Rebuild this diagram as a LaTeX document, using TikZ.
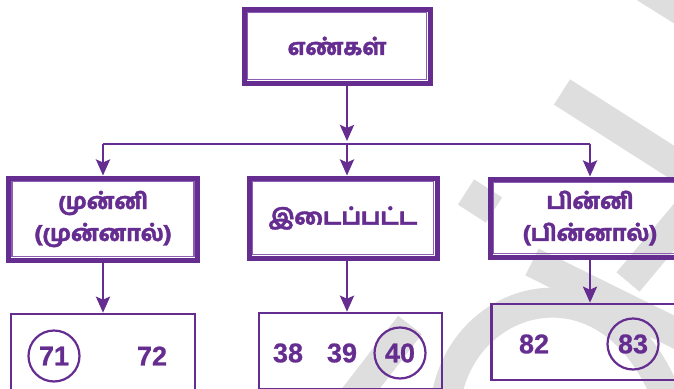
\documentclass[tikz,border=0pt]{standalone}
\usepackage{fontspec}
\setmainfont{Liberation Sans}
\newfontfamily\numfont{Liberation Sans}[BoldFeatures={FakeBold=0.8}]
\newfontfamily\tamilfont{Hind Madurai}[Script=Tamil, BoldFont={Hind Madurai Bold}, BoldFeatures={FakeBold=1.6}]
\usetikzlibrary{arrows.meta,positioning}
\definecolor{numpurple}{RGB}{102,45,145}
\definecolor{linepurple}{RGB}{140,95,180}
\definecolor{wmgray}{RGB}{222,222,222}

\begin{document}
\begin{tikzpicture}[x=1pt,y=-1pt,
  headbox/.style n args={2}{draw=numpurple, line width=5pt, minimum width=#1, minimum height=#2,
    inner sep=0pt, align=center, text=numpurple, font=\tamilfont\bfseries\fontsize{22.5}{32}\selectfont},
  setbox/.style n args={2}{draw=numpurple, line width=2.6pt, minimum width=#1, minimum height=#2, inner sep=0pt},
  num/.style={text=numpurple, font=\numfont\bfseries\fontsize{27}{27}\selectfont, inner sep=0pt},
  ring/.style={num, draw=numpurple, line width=2.2pt, circle, minimum size=51pt},
  arr/.style={draw=numpurple, line width=2.8pt, -{Stealth[length=16pt,width=14pt,inset=3pt]}},
  wm/.style={draw=wmgray, line width=30pt}]
\useasboundingbox (0,0) rectangle (674,388);
\clip (0,0) rectangle (674,388);
% watermark
\draw[wm] (625,-25) -- (700,22);
\draw[wm] (562,92) -- (700,180);
\draw[wm] (466,192) -- (494,210);
\draw[wm] (532,262) -- (700,345);
\draw[wm] (700,196) -- (628,282);
\draw[wm] (446,400) .. controls (462,292) and (610,250) .. (668,400);
\draw[wm] (352,400) -- (410,325);
% top box
\node[headbox={186}{74}] (nums) at (337,46) {எண்கள்};
% middle row
\node[headbox={189}{82}] (fore) at (103,219) {முன்னி\\(முன்னால்)};
\node[headbox={188}{80}] (mid) at (343,218) {இடைப்பட்ட};
\node[headbox={200}{78}] (back) at (590,218) {பின்னி\\(பின்னால்)};
% inner lines
\foreach \b in {nums,fore,mid,back}
  \draw[linepurple, line width=1.5pt] ([shift={(6,6)}]\b.north west) rectangle ([shift={(-6,-6)}]\b.south east);
% bottom row
\node[setbox={184}{76}] (foreset) at (103,352) {};
\node[setbox={183}{76}] (midset) at (350.5,351) {};
\node[setbox={197}{76}] (backset) at (590,342) {};
\node[ring] (n71) at (54,356) {71};
\node[num] (n72) at (152,356) {72};
\node[num] (n38) at (288,353) {38};
\node[num] (n39) at (342,353) {39};
\node[ring] (n40) at (400,353) {40};
\node[num] (n82) at (534,344) {82};
\node[ring] (n83) at (633,344) {83};
% connectors
\coordinate (split) at (347,144);
\draw[arr, shorten >=3pt] (nums.south -| split) -- (split);
\draw[numpurple, line width=2.8pt] (split -| fore.north) -- (split -| back.north);
\foreach \b in {fore,back}
  \draw[arr] (split -| \b.north) -- (\b.north);
\draw[arr] (split) -- (split |- mid.north);
\draw[arr] (fore.south) -- (fore.south |- foreset.north);
\draw[arr] (mid.south -| split) -- (split |- midset.north);
\draw[arr] (back.south) -- (back.south |- backset.north);
\end{tikzpicture}
\end{document}
